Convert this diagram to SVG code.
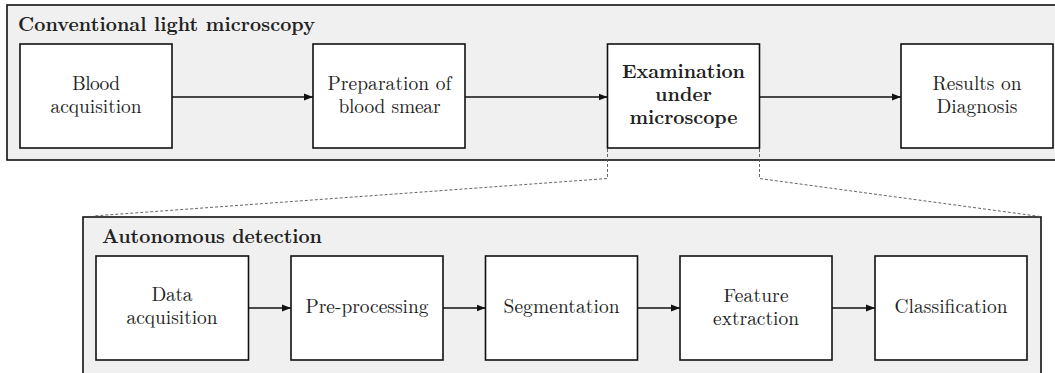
<svg xmlns="http://www.w3.org/2000/svg" width="1055" height="373" viewBox="0 0 1055 373">
  <style>
    .panel { fill: #f0f0f0; stroke: #111; stroke-width: 1.6; }
    .box { fill: #fff; stroke: #111; stroke-width: 1.6; }
    .t { font-family: "Latin Modern Roman", "CMU Serif", "Liberation Serif", serif; font-size: 19.4px; fill: #222; text-anchor: middle; }
    .title { font-family: "Latin Modern Roman", "CMU Serif", "Liberation Serif", serif; font-size: 19.4px; font-weight: bold; fill: #222; }
    .b { font-weight: bold; }
    .flow { stroke: #111; stroke-width: 1.6; fill: none; marker-end: url(#head); }
    .zoom { stroke: #555; stroke-width: 0.9; fill: none; stroke-dasharray: 3 2; }
  </style>
  <defs>
    <marker id="head" markerUnits="userSpaceOnUse" markerWidth="10" markerHeight="8" refX="9" refY="4" orient="auto">
      <path d="M0,0.6 L9,4 L0,7.4 Z" fill="#111"/>
    </marker>
  </defs>

  <rect width="1055" height="373" fill="#fff"/>

  <!-- Upper panel: conventional workflow -->
  <g id="panel-conventional">
    <rect class="panel" x="7" y="5" width="1060" height="155"/>
    <text class="title" x="18" y="31" textLength="297" lengthAdjust="spacing">Conventional light microscopy</text>
  </g>

  <!-- Lower panel: automated pipeline -->
  <g id="panel-autonomous">
    <rect class="panel" x="83" y="217" width="958" height="170"/>
    <text class="title" x="102" y="243" textLength="220" lengthAdjust="spacing">Autonomous detection</text>
  </g>

  <!-- Upper row nodes -->
  <g id="blood-acquisition">
    <rect class="box" x="20" y="44" width="152" height="104"/>
    <text class="t" x="96" y="90" textLength="48" lengthAdjust="spacing">Blood</text>
    <text class="t" x="96" y="113" textLength="91" lengthAdjust="spacing">acquisition</text>
  </g>
  <g id="blood-smear">
    <rect class="box" x="313" y="44" width="152" height="104"/>
    <text class="t" x="389.5" y="90" textLength="124" lengthAdjust="spacing">Preparation of</text>
    <text class="t" x="389.5" y="113" textLength="102" lengthAdjust="spacing">blood smear</text>
  </g>
  <g id="microscope-exam">
    <rect class="box" x="607.5" y="44" width="152" height="104"/>
    <text class="t b" x="683.5" y="78" textLength="123" lengthAdjust="spacing">Examination</text>
    <text class="t b" x="683.5" y="101" textLength="57" lengthAdjust="spacing">under</text>
    <text class="t b" x="683.5" y="124" textLength="108" lengthAdjust="spacing">microscope</text>
  </g>
  <g id="diagnosis">
    <rect class="box" x="901" y="44" width="152" height="104"/>
    <text class="t" x="977" y="90" textLength="89" lengthAdjust="spacing">Results on</text>
    <text class="t" x="977" y="113" textLength="81" lengthAdjust="spacing">Diagnosis</text>
  </g>

  <!-- Lower row nodes -->
  <g id="data-acquisition">
    <rect class="box" x="96" y="256" width="152.5" height="104"/>
    <text class="t" x="172" y="301" textLength="41" lengthAdjust="spacing">Data</text>
    <text class="t" x="172" y="324" textLength="91" lengthAdjust="spacing">acquisition</text>
  </g>
  <g id="pre-processing">
    <rect class="box" x="291" y="256" width="152" height="104"/>
    <text class="t" x="367" y="313" textLength="123" lengthAdjust="spacing">Pre-processing</text>
  </g>
  <g id="segmentation">
    <rect class="box" x="485.5" y="256" width="152" height="104"/>
    <text class="t" x="561.5" y="313" textLength="116" lengthAdjust="spacing">Segmentation</text>
  </g>
  <g id="feature-extraction">
    <rect class="box" x="680" y="256" width="152" height="104"/>
    <text class="t" x="756" y="302" textLength="65" lengthAdjust="spacing">Feature</text>
    <text class="t" x="756" y="324.5" textLength="86" lengthAdjust="spacing">extraction</text>
  </g>
  <g id="classification">
    <rect class="box" x="875" y="256" width="152" height="104"/>
    <text class="t" x="951" y="313" textLength="113" lengthAdjust="spacing">Classification</text>
  </g>

  <!-- Connectors -->
  <g id="connectors">
    <line class="flow" x1="172" y1="97" x2="313" y2="97"/>
    <line class="flow" x1="465" y1="97" x2="607.5" y2="97"/>
    <line class="flow" x1="759.5" y1="97" x2="901" y2="97"/>

    <line class="flow" x1="248.5" y1="308" x2="291" y2="308"/>
    <line class="flow" x1="443" y1="308" x2="485.5" y2="308"/>
    <line class="flow" x1="637.5" y1="308" x2="680" y2="308"/>
    <line class="flow" x1="832" y1="308" x2="875" y2="308"/>

    <!-- zoom-in guides from the examination step to the lower panel -->
    <polyline class="zoom" points="607.5,149 607.5,178.5 93,216"/>
    <polyline class="zoom" points="759.5,149 759.5,178.5 1040,216.5"/>
  </g>
</svg>
